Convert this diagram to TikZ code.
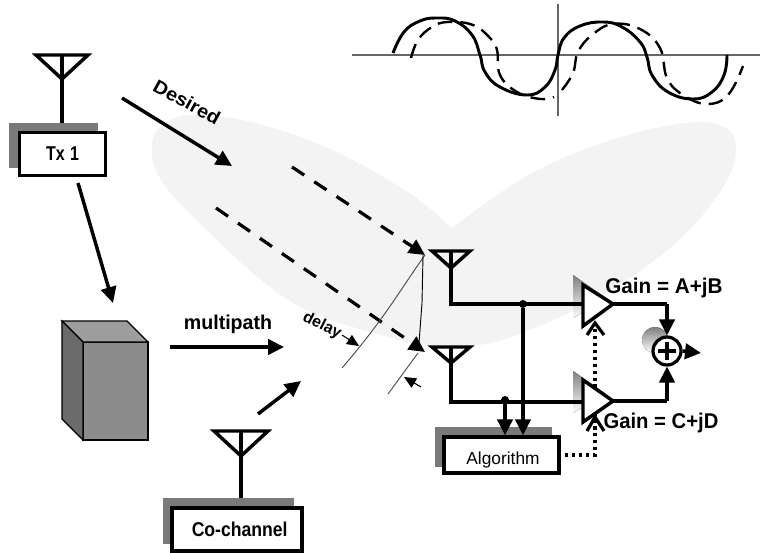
\documentclass[tikz,border=0pt]{standalone}
\usepackage{fontspec}
\setmainfont{Liberation Sans}
\usetikzlibrary{arrows.meta}
\definecolor{lobe}{HTML}{F3F3F3}
\definecolor{shade}{HTML}{7A7A7A}
\tikzset{
  wire/.style={line width=2.6pt,line join=miter},
  tiparrow/.style={line width=2.6pt,-{Triangle[length=12pt,width=11.5pt]}},
  dashedarrow/.style={line width=2.4pt,dash pattern=on 11pt off 9pt,-{Triangle[length=12pt,width=11.5pt]}},
  thinline/.style={line width=0.7pt},
  smallarrow/.style={line width=0.8pt,-{Triangle[length=9pt,width=8pt]}},
  openarrow/.style={line width=2.4pt},
  dotwire/.style={line width=2.6pt,dash pattern=on 2.6pt off 2.6pt},
  boxnode/.style={draw,line width=2.6pt,fill=white,inner sep=0pt,font=\bfseries},
  shadebox/.style={fill=shade,draw=none,inner sep=0pt},
  lbl/.style={inner sep=0pt,font=\bfseries},
  dot/.style={circle,fill=black,inner sep=0pt,minimum size=6pt},
  amp/.style={draw,line width=2.6pt,fill=white,line join=miter},
}
\begin{document}
\begin{tikzpicture}[x=0.75pt,y=-0.75pt]
\useasboundingbox (0,0) rectangle (762,552);
% beam lobes
\fill[lobe] plot[smooth,tension=0.65] coordinates {
 (452,228) (409,193) (332,150) (255,123) (195,115) (165,123) (152,145) (163,183)
 (217,240) (270,287) (313,313) (370,332) (420,344) (470,346) (520,334) (597,298)
 (670,248) (720,192) (736,150) (722,126) (678,124) (602,143) (525,177) (452,228)};
% sine panel
\coordinate (axL) at (352,55); \coordinate (axR) at (760,55);
\coordinate (axT) at (558,4); \coordinate (axB) at (558,116);
\draw[line width=1pt,black!60] (axL) -- (axR);
\draw[line width=1pt,black!60] (axT) -- (axB);
\draw[line width=2.2pt] plot[smooth,tension=0.75] coordinates {
 (393,53) (404,32) (420,21) (437,18) (455,21) (472,35) (480,55) (485,72) (500,87) (527,95)
 (545,87) (555,70) (558,55) (564,38) (580,26) (603,22) (622,27) (640,42) (647,57) (652,75) (668,92) (693,99)
 (712,92) (724,75) (727,55)};
\draw[line width=1.8pt,dash pattern=on 11pt off 6pt] plot[smooth,tension=0.7] coordinates {
 (411,58) (418,40) (432,27) (448,22) (473,25) (490,38) (497,50) (500,75) (517,92) (540,99) (554,97)};
\draw[line width=1.8pt,dash pattern=on 11pt off 6pt] plot[smooth,tension=0.7] coordinates {
 (562,90) (573,73) (578,52) (592,35) (613,24) (640,29) (660,48) (667,78) (683,95) (707,104) (728,95) (743,66)};
% Tx 1
\node[shadebox,minimum width=66.75pt,minimum height=33.75pt] (txs) at (53.5,145.5) {};
\node[boxnode,minimum width=64.5pt,minimum height=32.25pt] (tx) at (62.5,154) {\scalebox{.8}[1]{\fontsize{15}{17}\selectfont Tx\hspace{5pt}1}};
\coordinate (txA) at (62,79); \coordinate (txL) at (36,55); \coordinate (txR) at (88,55); \coordinate (txT) at (62,55);
\draw[wire] (txL) -- (txR) -- (txA) -- cycle;
\draw[wire] (txT) -- (txs.north -| txT);
\coordinate (dS) at (122,98); \coordinate (dE) at (232,166);
\draw[tiparrow] (dS) -- (dE);
\node[lbl,rotate=-29] (desired) at (187,102) {\scalebox{1.07}[1]{\fontsize{14}{16}\selectfont Desired}};
% cube
\coordinate (cA) at (62,321); \coordinate (cB) at (127,321); \coordinate (cC) at (148,342);
\coordinate (cD) at (83,342); \coordinate (cE) at (148,440); \coordinate (cF) at (83,440); \coordinate (cG) at (62,419);
\draw[line width=0.9pt,fill=black!45] (cD) -- (cC) -- (cE) -- (cF) -- cycle;
\draw[line width=0.9pt,fill=black!38] (cA) -- (cB) -- (cC) -- (cD) -- cycle;
\draw[line width=0.9pt,fill=black!58] (cA) -- (cD) -- (cF) -- (cG) -- cycle;
\coordinate (cTop) at (113,303);
\coordinate (txOut) at (78,183);
\draw[tiparrow] (txOut) -- (cTop);
% multipath
\coordinate (mS) at (170,347); \coordinate (mE) at (284,347);
\draw[tiparrow] (mS) -- (mE);
\node[lbl] (mp) at (228,324) {\scalebox{.98}[1]{\fontsize{15}{17}\selectfont multipath}};
% co-channel
\node[shadebox,minimum width=98.25pt,minimum height=34.5pt] (cos) at (228.5,521) {};
\node[boxnode,minimum width=97.5pt,minimum height=32.25pt] (co) at (237,529.5) {\hspace*{4pt}\scalebox{.88}[1]{\fontsize{15}{17}\selectfont Co-channel}};
\coordinate (coA) at (241,456); \coordinate (coL) at (214,431); \coordinate (coR) at (268,431); \coordinate (coT) at (241,431);
\draw[wire] (coL) -- (coR) -- (coA) -- cycle;
\draw[wire] (coT) -- (cos.north -| coT);
\coordinate (ccS) at (258,414); \coordinate (ccE) at (301,381);
\draw[tiparrow] (ccS) -- (ccE);
% wave fronts
\coordinate (up) at (425,255); \coordinate (low) at (425,352);
\coordinate (upS) at (292,167); \coordinate (lowS) at (216,208);
\draw[dashedarrow] (upS) -- (up);
\draw[dashedarrow] (lowS) -- (low);
\coordinate (t1) at (342,368); \coordinate (t2) at (388,394); \coordinate (t3) at (418,353);
\draw[line width=0.7pt,black!70] (up) .. controls (400,290) and (385,318) .. (t1);
\draw[thinline] (423,255) -- (422,303) -- (419,343);
\draw[line width=0.7pt,black!70] (t3) -- (t2);
\coordinate (da1) at (342,335); \coordinate (da2) at (359,346);
\coordinate (da3) at (421,387); \coordinate (da4) at (404,377);
\draw[smallarrow] (da1) -- (da2);
\draw[smallarrow] (da3) -- (da4);
\node[lbl,rotate=-27] (delay) at (322,326) {\fontsize{12}{14}\selectfont delay};
% receive antennas
\coordinate (r1L) at (432,251); \coordinate (r1R) at (470,251); \coordinate (r1A) at (451,268); \coordinate (r1T) at (451,251);
\coordinate (r2L) at (432,347); \coordinate (r2R) at (470,347); \coordinate (r2A) at (451,363); \coordinate (r2T) at (451,347);
\draw[wire] (r1L) -- (r1R) -- (r1A) -- cycle;
\draw[wire] (r2L) -- (r2R) -- (r2A) -- cycle;
% amplifiers
\coordinate (a1t) at (583,285); \coordinate (a1o) at (613,304); \coordinate (a1b) at (583,326);
\coordinate (a2t) at (583,380); \coordinate (a2o) at (613,401); \coordinate (a2b) at (583,422);
\coordinate (r1c) at (451,304); \coordinate (r2c) at (451,402);
\coordinate (a1i) at (583,304); \coordinate (a2i) at (583,402);
\fill[shade] (573,275) -- (606,298) -- (573,318) -- cycle;
\fill[shade] (573,371) -- (606,394) -- (573,413) -- cycle;
\draw[wire] (r1T) -- (r1c) -- (a1i);
\draw[wire] (r2T) -- (r2c) -- (a2i);
% algorithm
\node[shadebox,minimum width=87.75pt,minimum height=30pt] (als) at (493.5,447) {};
\node[boxnode,minimum width=86.25pt,minimum height=27pt] (alg) at (501.5,455) {};
\node[inner sep=0pt,font=\fontsize{13}{15}\selectfont] (algt) at (503,460) {Algorithm};
\node[dot] (j1) at (523,304) {};
\node[dot] (j2) at (505,400) {};
\draw[tiparrow] (j1) -- (j1 |- alg.north);
\draw[tiparrow] (j2) -- (j2 |- alg.north);
% controls
\coordinate (c0) at (565,455); \coordinate (c1) at (595,455); \coordinate (c2) at (595,323); \coordinate (c3) at (595,417);
\draw[dotwire] (c0) -- (c1) -- (c2);
\draw[amp] (a1t) -- (a1o) -- (a1b) -- cycle;
\draw[amp] (a2t) -- (a2o) -- (a2b) -- cycle;
\coordinate (h1a) at (587,335); \coordinate (h1b) at (604,335);
\coordinate (h2a) at (587,431); \coordinate (h2b) at (604,431);
\draw[openarrow] (h1a) -- (c2) -- (h1b);
\draw[openarrow] (h2a) -- (c3) -- (h2b);
% summer
\fill[shade] (655,340) circle (13);
\node[circle,draw,line width=2.4pt,fill=white,minimum size=21pt,inner sep=0pt] (sum) at (667,351) {};
\draw[line width=2.4pt] (sum.center) ++(-9,0) -- ++(18,0);
\draw[line width=2.4pt] (sum.center) ++(0,-9) -- ++(0,18);
\coordinate (o1) at (667,304); \coordinate (o2) at (667,401); \coordinate (oE) at (701,353);
\draw[wire] (a1o) -- (o1);
\draw[wire] (a2o) -- (o2);
\draw[tiparrow] (o1) -- (sum.north);
\draw[tiparrow] (o2) -- (sum.south);
\draw[tiparrow] (sum.east) -- (oE);
\node[lbl] (g1) at (664,288) {\scalebox{.97}[1]{\fontsize{16}{18}\selectfont Gain = A+jB}};
\node[lbl] (g2) at (661,423) {\scalebox{.95}[1]{\fontsize{16}{18}\selectfont Gain = C+jD}};
\end{tikzpicture}
\end{document}
